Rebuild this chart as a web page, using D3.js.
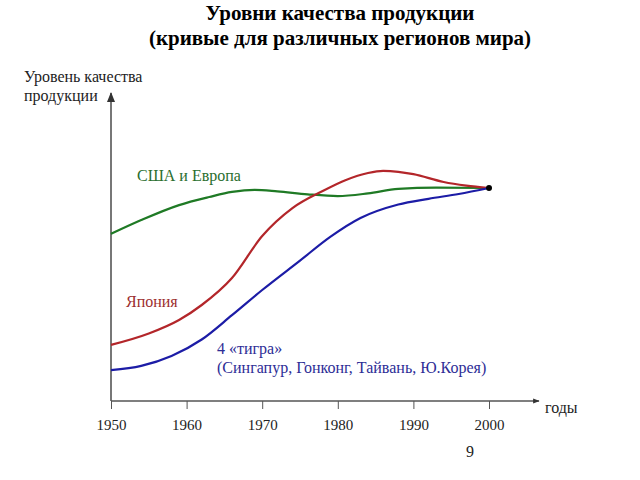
<!DOCTYPE html>
<html lang="ru">
<head>
<meta charset="UTF-8" />
<title>Уровни качества продукции</title>
<script src="https://cdn.jsdelivr.net/npm/d3@7"></script>
<style>
  body { margin: 0; background: #fff; }
</style>
</head>
<body>
<div id="chart"></div>
<script>
// data (quality index, arbitrary units)
var usaEuropeYears = [1950, 1954, 1959, 1963, 1966, 1969, 1972, 1976, 1980, 1984, 1988, 1993, 2000];
var usaEuropeVals  = [55.7, 60.3, 65.3, 68.0, 69.7, 70.4, 69.9, 68.9, 68.3, 69.2, 70.7, 71.1, 71.0];

var japanYears = [1950, 1955, 1959, 1962, 1966, 1970, 1974, 1978, 1981, 1984, 1986, 1988, 1990, 1994, 1997, 2000];
var japanVals  = [18.7, 22.5, 27.0, 32.0, 41.0, 55.0, 64.3, 70.0, 73.6, 76.0, 76.7, 76.4, 75.6, 73.0, 71.8, 71.0];

var tigersYears = [1950, 1954, 1958, 1962, 1966, 1970, 1975, 1979, 1983, 1988, 1992, 1996, 2000];
var tigersVals  = [10.3, 11.7, 15.0, 20.5, 28.6, 37.0, 46.8, 54.7, 61.0, 65.5, 67.4, 69.0, 71.0];

var xTicks = [1950, 1960, 1970, 1980, 1990, 2000];

var serif = "Liberation Serif";
var w = 640, h = 480;
var svg = d3.select("#chart").append("svg")
  .attr("width", w)
  .attr("height", h)
  .attr("font-family", serif);

var x = d3.scaleLinear().domain([1950, 2000]).range([111, 489]);
var y = d3.scaleLinear().domain([0, 100]).range([401, 101]);

// arrow marker
svg.append("defs").append("marker")
  .attr("id", "arrow")
  .attr("viewBox", "0 0 10 10")
  .attr("refX", 9).attr("refY", 5)
  .attr("markerWidth", 5).attr("markerHeight", 5)
  .attr("orient", "auto")
  .append("path")
  .attr("d", "M0,1 L10,5 L0,9 z")
  .attr("fill", "#333");

// title
svg.append("text")
  .attr("x", 340).attr("y", 20)
  .attr("text-anchor", "middle")
  .attr("font-size", "21px").attr("font-weight", "bold")
  .text("Уровни качества продукции");
svg.append("text")
  .attr("x", 340).attr("y", 45)
  .attr("text-anchor", "middle")
  .attr("font-size", "21px").attr("font-weight", "bold")
  .text("(кривые для различных регионов мира)");

// axis titles
svg.append("text").attr("x", 24).attr("y", 82)
  .attr("font-size", "16px").attr("fill", "#222").text("Уровень качества");
svg.append("text").attr("x", 24).attr("y", 101)
  .attr("font-size", "16px").attr("fill", "#222").text("продукции");
svg.append("text").attr("x", 545).attr("y", 413)
  .attr("font-size", "16px").attr("fill", "#222").text("годы");

// y axis
svg.append("line")
  .attr("x1", x(1950)).attr("y1", y(0))
  .attr("x2", x(1950)).attr("y2", 93)
  .attr("stroke", "#777").attr("stroke-width", 2)
  .attr("marker-end", "url(#arrow)");

// x axis
var xAxis = d3.axisBottom(x)
  .tickValues(xTicks)
  .tickFormat(d3.format("d"))
  .tickSize(8)
  .tickSizeOuter(0);

var gx = svg.append("g")
  .attr("transform", "translate(0," + y(0) + ")")
  .call(xAxis);
gx.attr("font-family", serif);
gx.select(".domain").remove();
gx.selectAll(".tick line").attr("stroke", "#555");
gx.selectAll(".tick text")
  .attr("font-size", "15px")
  .attr("fill", "#222")
  .attr("y", 18);

svg.append("line")
  .attr("x1", x(1950)).attr("y1", y(0))
  .attr("x2", 539).attr("y2", y(0))
  .attr("stroke", "#555").attr("stroke-width", 1.3)
  .attr("marker-end", "url(#arrow)");

// curves
var series = [
  { years: usaEuropeYears, vals: usaEuropeVals, color: "#1f7a25" },
  { years: japanYears, vals: japanVals, color: "#b3262a" },
  { years: tigersYears, vals: tigersVals, color: "#1c1ca6" }
];

var line = d3.line()
  .x(function(d) { return x(d[0]); })
  .y(function(d) { return y(d[1]); })
  .curve(d3.curveMonotoneX);

series.forEach(function(s) {
  var pts = s.years.map(function(yr, i) { return [yr, s.vals[i]]; });
  svg.append("path")
    .datum(pts)
    .attr("d", line)
    .attr("fill", "none")
    .attr("stroke", s.color)
    .attr("stroke-width", 2.2);
});

// meeting point
svg.append("circle")
  .attr("cx", x(2000)).attr("cy", y(71))
  .attr("r", 3)
  .attr("fill", "#000");

// series labels
svg.append("text").attr("x", 137).attr("y", 181)
  .attr("font-size", "16px").attr("fill", "#2a6e2e").text("США и Европа");
svg.append("text").attr("x", 126).attr("y", 307)
  .attr("font-size", "16px").attr("fill", "#9c2f2f").text("Япония");
svg.append("text").attr("x", 217).attr("y", 354)
  .attr("font-size", "16px").attr("fill", "#2d2d96").text("4 «тигра»");
svg.append("text").attr("x", 217).attr("y", 373)
  .attr("font-size", "16px").attr("fill", "#2d2d96").text("(Сингапур, Гонконг, Тайвань, Ю.Корея)");

// page number
svg.append("text").attr("x", 466).attr("y", 457)
  .attr("font-size", "16px").attr("fill", "#222").text("9");
</script>
</body>
</html>
